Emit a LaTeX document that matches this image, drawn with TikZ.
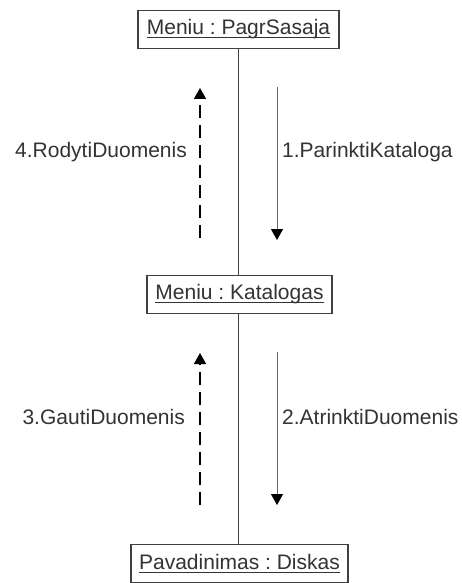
\documentclass[tikz,border=0pt]{standalone}
\usepackage{fontspec}
\setmainfont{Liberation Sans}
\frenchspacing
\newcommand\objul[1]{\leavevmode\setbox0\hbox{#1}\rlap{\rule[-3.5pt]{\wd0}{1.2pt}}\box0}
\usetikzlibrary{arrows.meta}
\begin{document}
\begin{tikzpicture}[x=1pt,y=-1pt,
  obj/.style={draw=black!75,line width=1.2pt,inner sep=0pt,minimum height=38pt,
    font=\fontsize{21}{24}\selectfont,text=black!80,fill=white},
  lbl/.style={font=\fontsize{21}{24}\selectfont,text=black!80,inner sep=0pt},
  life/.style={draw=black!75,line width=1.3pt},
  call/.style={draw=black!60,line width=1pt,-{Triangle[width=12pt,length=11pt,color=black,fill=black]}},
  reply/.style={draw=black,line width=1.5pt,dash pattern=on 13pt off 7pt,-{Triangle[width=12pt,length=11pt,color=black,fill=black]}}
]
\fill[white] (0,0) rectangle (462,583);
\useasboundingbox (0,0) rectangle (462,583);

\node[obj,minimum width=201pt] (top) at (238.5,29.5) {\objul{Meniu : PagrSasaja}};
\node[obj,minimum width=185pt] (mid) at (239.5,294.5) {\objul{Meniu : Katalogas}};
\node[obj,minimum width=217pt] (bot) at (239.5,563.5) {\objul{Pavadinimas : Diskas}};

\draw[life] (top.south) -- (top.south |- mid.north);
\draw[life] (top.south |- mid.south) -- (top.south |- bot.north);

\coordinate (a1s) at (277,87);
\coordinate (a1e) at (277,240);
\coordinate (a4s) at (200,238);
\coordinate (a4e) at (200,88);
\coordinate (a2s) at (277,352);
\coordinate (a2e) at (277,505);
\coordinate (a3s) at (200,505);
\coordinate (a3e) at (200,353);

\draw[call] (a1s) -- (a1e);
\draw[reply] (a4s) -- (a4e);
\draw[call] (a2s) -- (a2e);
\draw[reply] (a3s) -- (a3e);

\node[lbl,anchor=west] (l1) at (282,152) {1.ParinktiKataloga};
\node[lbl,anchor=east] (l4) at (187,152) {4.RodytiDuomenis};
\node[lbl,anchor=west] (l2) at (282,417) {2.AtrinktiDuomenis};
\node[lbl,anchor=east] (l3) at (185,417) {3.GautiDuomenis};
\end{tikzpicture}
\end{document}
